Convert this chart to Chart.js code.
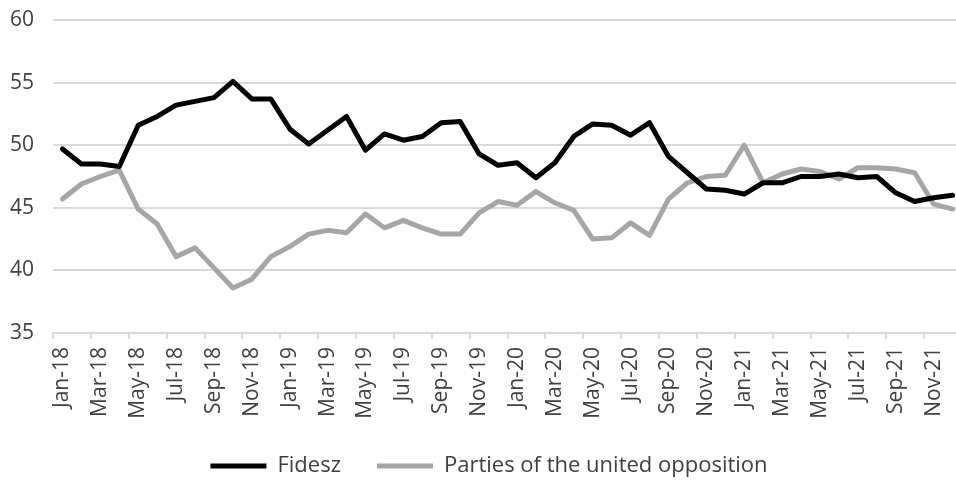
<!DOCTYPE html>
<html>
<head>
<meta charset="utf-8">
<script src="https://cdn.jsdelivr.net/npm/chart.js@4"></script>
<style>
  html, body { margin: 0; padding: 0; background: #fff; overflow: hidden; }
  #wrap { position: absolute; left: 0; top: 0; width: 962px; height: 487px; }
</style>
</head>
<body>
<div id="wrap"><canvas id="pollChart"></canvas></div>
<script>
// monthly poll averages, Jan 2018 - Dec 2021
const months = [
  "Jan-18", "Feb-18", "Mar-18", "Apr-18", "May-18", "Jun-18", "Jul-18", "Aug-18", "Sep-18", "Oct-18", "Nov-18", "Dec-18",
  "Jan-19", "Feb-19", "Mar-19", "Apr-19", "May-19", "Jun-19", "Jul-19", "Aug-19", "Sep-19", "Oct-19", "Nov-19", "Dec-19",
  "Jan-20", "Feb-20", "Mar-20", "Apr-20", "May-20", "Jun-20", "Jul-20", "Aug-20", "Sep-20", "Oct-20", "Nov-20", "Dec-20",
  "Jan-21", "Feb-21", "Mar-21", "Apr-21", "May-21", "Jun-21", "Jul-21", "Aug-21", "Sep-21", "Oct-21", "Nov-21", "Dec-21"
];

const fidesz = [
  49.7, 48.5, 48.5, 48.3, 51.6, 52.3, 53.2, 53.5, 53.8, 55.1, 53.7, 53.7,
  51.3, 50.1, 51.2, 52.3, 49.6, 50.9, 50.4, 50.7, 51.8, 51.9, 49.3, 48.4,
  48.6, 47.4, 48.6, 50.7, 51.7, 51.6, 50.8, 51.8, 49.1, 47.8, 46.5, 46.4,
  46.1, 47.0, 47.0, 47.5, 47.5, 47.7, 47.4, 47.5, 46.2, 45.5, 45.8, 46.0
];

const opposition = [
  45.7, 46.9, 47.5, 48.0, 44.9, 43.7, 41.1, 41.8, 40.2, 38.6, 39.3, 41.1,
  41.9, 42.9, 43.2, 43.0, 44.5, 43.4, 44.0, 43.4, 42.9, 42.9, 44.6, 45.5,
  45.2, 46.3, 45.4, 44.8, 42.5, 42.6, 43.8, 42.8, 45.7, 47.0, 47.5, 47.6,
  50.0, 47.0, 47.7, 48.1, 47.9, 47.3, 48.2, 48.2, 48.1, 47.8, 45.3, 44.9
];

const yTicks = [35, 40, 45, 50, 55, 60];

const FONT = "'Open Sans', sans-serif";
const GRID = "#d9d9d9";
const TEXT = "#404040";

function lineSeries(label, data, color) {
  return {
    label: label,
    data: data,
    borderColor: color,
    backgroundColor: color,
    borderWidth: 5,
    borderJoinStyle: "round",
    borderCapStyle: "round",
    pointRadius: 0,
    pointHoverRadius: 0,
    tension: 0,
    pointStyle: "line",
  };
}

// push the legend row a little to the right of the canvas centre
const legendShift = {
  id: "legendShift",
  afterLayout(chart) {
    if (chart.legend) {
      chart.legend.left += 8;
      chart.legend.right += 8;
    }
  },
};

const ctx = document.getElementById("pollChart").getContext("2d");
new Chart(ctx, {
  type: "line",
  data: {
    labels: months,
    datasets: [
      lineSeries("Fidesz", fidesz, "#000000"),
      lineSeries("Parties of the united opposition", opposition, "#a6a6a6"),
    ],
  },
  plugins: [legendShift],
  options: {
    responsive: true,
    maintainAspectRatio: false,
    animation: false,
    layout: { padding: { top: 20, right: 0, bottom: 0, left: 0 } },
    plugins: {
      tooltip: { enabled: false },
      legend: {
        position: "bottom",
        labels: {
          usePointStyle: true,
          pointStyleWidth: 56,
          padding: 36,
          color: TEXT,
          font: { family: FONT, size: 22 },
        },
      },
    },
    scales: {
      x: {
        type: "category",
        offset: true,
        afterFit: (scale) => {
          scale.height = 86;
          // the rotated labels need no side room; let the plot run to the edge
          scale.paddingLeft = 0;
          scale.paddingRight = 0;
        },
        grid: {
          offset: true,
          drawOnChartArea: false,
          drawTicks: true,
          tickLength: 6,
          lineWidth: 2,
          color: (c) => (c.index % 2 === 0 ? GRID : "rgba(0,0,0,0)"),
        },
        border: { display: true, color: GRID, width: 2 },
        ticks: {
          autoSkip: false,
          minRotation: 90,
          maxRotation: 90,
          padding: 8,
          color: TEXT,
          font: { family: FONT, size: 21 },
          callback: function (value, index) {
            return index % 2 === 0 ? months[index] : "";
          },
        },
      },
      y: {
        min: 35,
        max: 60,
        afterBuildTicks: (scale) => {
          scale.ticks = yTicks.map((v) => ({ value: v }));
        },
        afterFit: (scale) => {
          scale.width = 53;
        },
        grid: {
          color: GRID,
          lineWidth: 2,
          drawTicks: true,
          tickLength: 16,
          tickColor: "rgba(0,0,0,0)",
        },
        border: { display: false },
        ticks: {
          padding: 3,
          color: TEXT,
          font: { family: FONT, size: 21 },
        },
      },
    },
  },
});
</script>
</body>
</html>
